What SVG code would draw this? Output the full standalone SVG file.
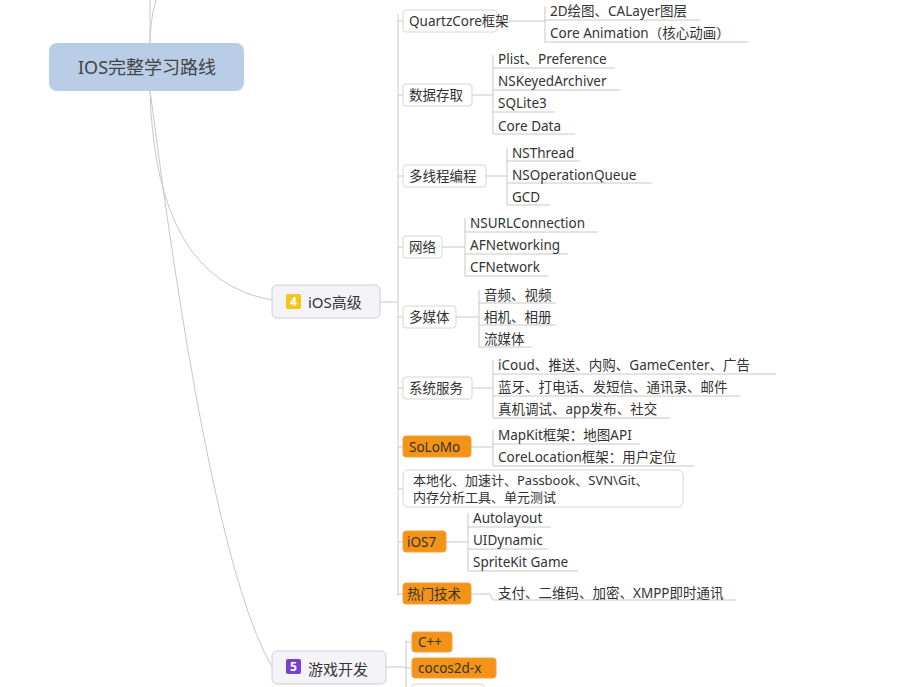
<svg xmlns="http://www.w3.org/2000/svg" width="904" height="687" viewBox="0 0 904 687">
<style>
text{font-family:"Noto Sans","Noto Sans CJK SC",sans-serif;fill:#333;font-size:13.5px}
.b{fill:#fff;stroke:#d6d6d6;stroke-width:1}
.o{fill:#f39416;stroke:#f0a040;stroke-width:1}
.l{fill:none;stroke:#c8c8c8;stroke-width:1}
.m{fill:#f3f3f8;stroke:#cfcfd8}
</style>
<rect width="904" height="687" fill="#fff"/>
<g id="connectors" class="l">
<path d="M150 0 L150 45 M156 0 Q150 20 150 45"/>
<path d="M150 90 Q155 280 272 300"/>
<path d="M150 90 Q210 560 272 667"/>
<path d="M380 302 L398 302 M398 14 L398 596"/>
<path d="M398 21 H403 M398 95 H403 M398 176 H403 M398 247 H403 M398 317 H403 M398 388 H403 M398 447 H403 M398 489 H403 M398 542 H403 M398 594 H403"/>
<path d="M497 21 H545 M545 6 V43 M545 20 H700 M545 42 H748"/>
<path d="M472 95 H493 M493 55 V134 M493 68 H615 M493 90 H620 M493 112 H555 M493 134 H575"/>
<path d="M486 176 H507 M507 148 V205 M507 161 H580 M507 183 H652 M507 205 H550"/>
<path d="M442 247 H465 M465 218 V276 M465 232 H598 M465 254 H568 M465 276 H548"/>
<path d="M456 317 H479 M479 290 V348 M479 303 H556 M479 325 H556 M479 347 H532"/>
<path d="M472 388 H493 M493 360 V418 M493 374 H776 M493 396 H740 M493 418 H670"/>
<path d="M471 447 H493 M493 430 V466 M493 444 H640 M493 466 H694"/>
<path d="M446 542 H468 M468 513 V571 M468 527 H551 M468 549 H548 M468 571 H578"/>
<path d="M471 594 H490 L493 600 H736"/>
<path d="M386 667 H406 M406 640 V687 M406 642 H412 M406 668 H412"/>
</g>
<g id="root"><rect x="49" y="43" width="195" height="48" rx="8" fill="#b9cde6"/><text x="147" y="74" text-anchor="middle" style="font-size:18px;fill:#444">IOS完整学习路线</text></g>
<g id="ios"><rect class="m" x="272" y="285" width="108" height="33" rx="5"/><rect x="286" y="294" width="15" height="15" rx="2" fill="#f5c518"/><text x="293.5" y="306" text-anchor="middle" style="font-size:12px;fill:#fff;font-weight:bold">4</text><text x="308" y="308" style="font-size:15px">iOS高级</text></g>
<g id="game"><rect class="m" x="272" y="651" width="114" height="33" rx="5"/><rect x="286" y="659" width="15" height="15" rx="2" fill="#7b3fd0"/><text x="293.5" y="671" text-anchor="middle" style="font-size:12px;fill:#fff;font-weight:bold">5</text><text x="308" y="675" style="font-size:15px">游戏开发</text></g>
<g id="quartz"><rect class="b" x="403" y="10" width="94" height="22" rx="3"/><text x="409" y="26">QuartzCore框架</text><text x="550" y="16">2D绘图、CALayer图层</text><text x="550" y="38">Core Animation（核心动画）</text></g>
<g id="data"><rect class="b" x="403" y="84" width="69" height="22" rx="3"/><text x="409" y="100">数据存取</text><text x="498" y="64">Plist、Preference</text><text x="498" y="86">NSKeyedArchiver</text><text x="498" y="108">SQLite3</text><text x="498" y="131">Core Data</text></g>
<g id="thread"><rect class="b" x="403" y="165" width="83" height="22" rx="3"/><text x="409" y="181">多线程编程</text><text x="512" y="158">NSThread</text><text x="512" y="180">NSOperationQueue</text><text x="512" y="202">GCD</text></g>
<g id="net"><rect class="b" x="403" y="236" width="39" height="22" rx="3"/><text x="409" y="252">网络</text><text x="470" y="228">NSURLConnection</text><text x="470" y="250">AFNetworking</text><text x="470" y="272">CFNetwork</text></g>
<g id="media"><rect class="b" x="403" y="306" width="53" height="22" rx="3"/><text x="409" y="322">多媒体</text><text x="484" y="300">音频、视频</text><text x="484" y="322">相机、相册</text><text x="484" y="344">流媒体</text></g>
<g id="sys"><rect class="b" x="403" y="377" width="69" height="22" rx="3"/><text x="409" y="393">系统服务</text><text x="498" y="370">iCoud、推送、内购、GameCenter、广告</text><text x="498" y="392">蓝牙、打电话、发短信、通讯录、邮件</text><text x="498" y="414">真机调试、app发布、社交</text></g>
<g id="solomo"><rect class="o" x="403" y="436" width="68" height="21" rx="3"/><text x="409" y="452">SoLoMo</text><text x="498" y="440">MapKit框架：地图API</text><text x="498" y="462">CoreLocation框架：用户定位</text></g>
<g id="local"><rect class="b" x="403" y="470" width="280" height="37" rx="5"/><text x="413" y="485" style="font-size:13px">本地化、加速计、Passbook、SVN\Git、</text><text x="413" y="502" style="font-size:13px">内存分析工具、单元测试</text></g>
<g id="ios7"><rect class="o" x="403" y="531" width="43" height="21" rx="3"/><text x="407" y="547">iOS7</text><text x="473" y="523">Autolayout</text><text x="473" y="545">UIDynamic</text><text x="473" y="567">SpriteKit Game</text></g>
<g id="hot"><rect class="o" x="403" y="583" width="68" height="21" rx="3"/><text x="407" y="599">热门技术</text><text x="498" y="598">支付、二维码、加密、XMPP即时通讯</text></g>
<g id="cpp"><rect class="o" x="412" y="632" width="40" height="20" rx="3"/><text x="418" y="647">C++</text></g>
<g id="cocos"><rect class="o" x="412" y="658" width="84" height="20" rx="3"/><text x="418" y="673">cocos2d-x</text></g>
<g id="more"><rect class="b" x="412" y="684" width="72" height="10" rx="3"/></g>
</svg>
